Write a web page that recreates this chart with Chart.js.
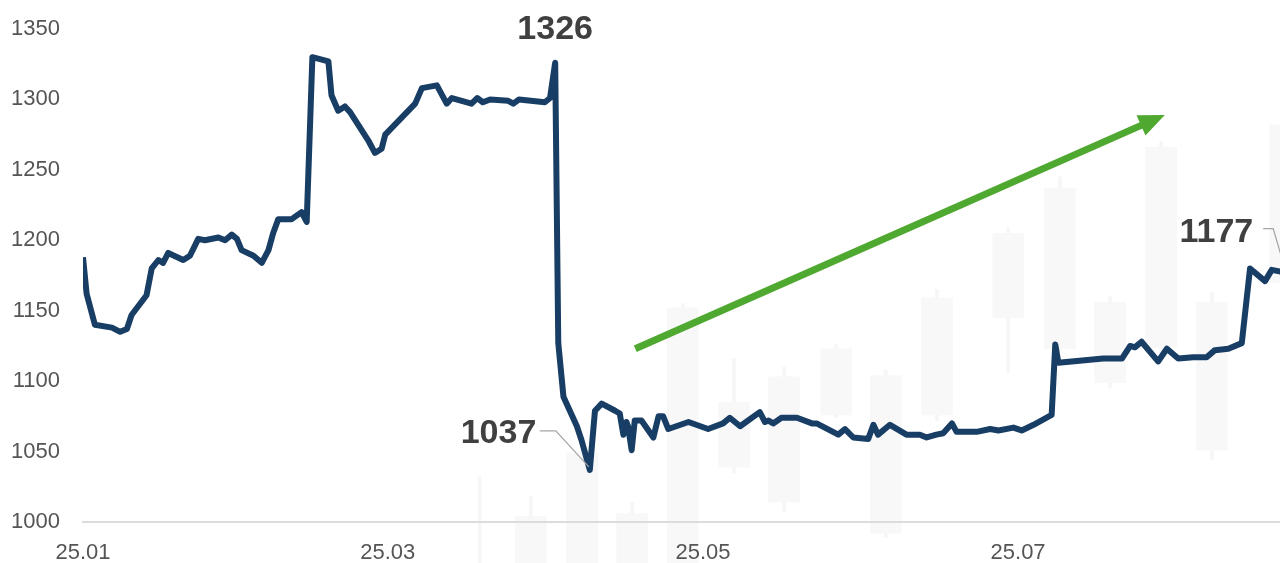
<!DOCTYPE html>
<html><head><meta charset="utf-8">
<script src="https://cdn.jsdelivr.net/npm/chart.js@4.4.1/dist/chart.umd.min.js"></script>
<style>html,body{margin:0;padding:0;background:#fff;}#wrap{width:1280px;height:563px;}</style>
</head><body><div id="wrap"><canvas id="c" width="1280" height="563"></canvas></div>
<script>
// ---- data (x = calendar day of 2025, 0 = Jan 1) ----
const days = [0,0.7,2.3,5.6,7.2,8.5,9.4,12.3,13.3,14.6,15.5,16.5,19.4,20.7,22.3,23.6,26.2,27.5,28.8,29.8,30.7,33.0,34.6,35.9,36.8,37.8,40.4,42.3,43.3,44.4,47.5,48.1,49.4,50.7,51.7,55.2,56.5,57.8,58.5,64.3,65.6,68.5,70.4,71.4,75.2,76.3,77.4,78.8,82.3,83.3,84.4,89.4,90.4,91.4,92.0,93.0,95.6,96.5,98.1,99.1,100.4,103.0,103.9,104.6,105.2,105.5,106.2,106.8,108.1,110.4,111.4,112.3,113.3,117.2,121.0,123.9,125.2,127.2,131.0,132.0,132.7,133.6,135.2,138.2,141.1,142.0,146.2,147.5,149.1,152.0,153.0,153.9,156.2,159.4,162.0,163.3,165.2,166.5,168.2,169.1,173.0,175.6,177.2,180.1,181.7,184.0,187.5,188.2,188.8,197.5,201.1,202.7,203.6,204.9,208.1,209.8,212.0,214.9,216.2,217.5,219.1,221.7,224.3,225.9,228.8,230.1,232.9];
const prices = [1188,1162,1140,1138,1135,1137,1147,1161,1180,1186,1184,1191,1186,1189,1201,1200,1202,1200,1204,1201,1193,1189,1184,1193,1205,1215,1215,1220,1213,1330,1327,1303,1292,1295,1291,1271,1262,1265,1275,1297,1308,1310,1297,1301,1297,1301,1298,1300,1299,1297,1300,1298,1301,1326,1127,1089,1068,1058,1037,1079,1084,1079,1077,1062,1071,1068,1051,1072,1072,1060,1075,1075,1066,1071,1066,1070,1074,1068,1078,1071,1072,1070,1074,1074,1070,1070,1062,1066,1060,1059,1069,1062,1069,1062,1062,1060,1062,1063,1070,1064,1064,1066,1065,1067,1065,1069,1076,1126,1113,1116,1116,1125,1124,1128,1114,1123,1116,1117,1117,1117,1122,1123,1127,1180,1171,1179,1177];

const xTickDays = [0, 59, 120, 181];
const xTickLabels = ['25.01', '25.03', '25.05', '25.07'];
const yTickValues = [1000, 1050, 1100, 1150, 1200, 1250, 1300, 1350];

// faint background candles
const candleDays  = [76.8, 86.7, 96.6, 106.3, 116.1, 126.0, 135.7, 145.8, 155.4, 165.3, 179.1, 189.1, 198.8, 208.7, 218.5, 232.7];
const candleOpen  = [null, 960, 960, 960, 960, 1039, 1014, 1076, 992, 1076, 1145, 1123, 1099, 1124, 1051, 1170];
const candleClose = [null, 1004, 1049, 1006, 1152, 1085, 1103, 1123, 1104, 1159, 1205, 1237, 1156, 1266, 1156, 1282];
const candleLow   = [960, 960, 960, 960, 960, 1035, 1007, 1074, 989, 1072, 1106, 1122, 1095, 1120, 1044, 1165];
const candleHigh  = [1032, 1018, 1051, 1014, 1155, 1116, 1110, 1126, 1108, 1165, 1209, 1245, 1160, 1270, 1163, 1285];

// labelled points (by day) and trend arrow (data coords)
const labelDays = [91.4, 98.1, 232.9];
const trendStart = [106.9, 1123];
const trendEnd = [209.4, 1289];

// ---- build ----
const lineData = days.map((d, i) => ({x: d, y: prices[i]}));
const bodyData = candleDays.map((d, i) => ({x: d, y: candleOpen[i] == null ? null : [candleOpen[i], candleClose[i]]}));
const wickData = candleDays.map((d, i) => ({x: d, y: [candleLow[i], candleHigh[i]]}));

const labelStyles = [
  {dx: 0, dy: -23.5, align: 'center', leader: null},
  {dx: -53.5, dy: -26.5, align: 'right', leader: [[-50, -39], [-34, -39], [-1, -3]]},
  {dx: -33, dy: -31, align: 'right', leader: [[-23, -44], [-13, -44], [0, 0]]}
];

const overlay = {
  id: 'overlay',
  afterDatasetsDraw(chart) {
    const ctx = chart.ctx, xs = chart.scales.x, ys = chart.scales.y;
    ctx.save();
    // trend arrow
    const x0 = xs.getPixelForValue(trendStart[0]), y0 = ys.getPixelForValue(trendStart[1]);
    const x1 = xs.getPixelForValue(trendEnd[0]), y1 = ys.getPixelForValue(trendEnd[1]);
    const ang = Math.atan2(y1 - y0, x1 - x0);
    const headL = 26, headW = 11;
    const bx = x1 - headL * Math.cos(ang), by = y1 - headL * Math.sin(ang);
    ctx.strokeStyle = '#4fa82f';
    ctx.fillStyle = '#4fa82f';
    ctx.lineWidth = 7;
    ctx.lineCap = 'butt';
    ctx.beginPath();
    ctx.moveTo(x0, y0);
    ctx.lineTo(bx + 2 * Math.cos(ang), by + 2 * Math.sin(ang));
    ctx.stroke();
    ctx.beginPath();
    ctx.moveTo(x1, y1);
    ctx.lineTo(bx + headW * Math.sin(ang), by - headW * Math.cos(ang));
    ctx.lineTo(bx - headW * Math.sin(ang), by + headW * Math.cos(ang));
    ctx.closePath();
    ctx.fill();
    // value labels
    ctx.font = 'bold 34px "Liberation Sans", Arial, sans-serif';
    ctx.textBaseline = 'alphabetic';
    labelDays.forEach((d, k) => {
      const i = days.indexOf(d);
      const px = xs.getPixelForValue(days[i]), py = ys.getPixelForValue(prices[i]);
      const st = labelStyles[k];
      if (st.leader) {
        ctx.strokeStyle = '#a6a6a6';
        ctx.lineWidth = 1.3;
        ctx.beginPath();
        st.leader.forEach((p, j) => j ? ctx.lineTo(px + p[0], py + p[1]) : ctx.moveTo(px + p[0], py + p[1]));
        ctx.stroke();
      }
      ctx.fillStyle = '#404040';
      ctx.textAlign = st.align;
      ctx.fillText(String(Math.round(prices[i])), px + st.dx, py + st.dy);
    });
    ctx.restore();
  }
};

new Chart(document.getElementById('c'), {
  data: {
    datasets: [
      {type: 'line', data: lineData, borderColor: '#183e65', borderWidth: 6, pointRadius: 0,
       tension: 0, borderJoinStyle: 'round', borderCapStyle: 'butt', fill: false, order: 0},
      {type: 'bar', data: bodyData, backgroundColor: '#f8f8f9', barThickness: 31, grouped: false,
       clip: false, order: 1, borderWidth: 0},
      {type: 'bar', data: wickData, backgroundColor: '#f6f6f7', barThickness: 3, grouped: false,
       clip: false, order: 2, borderWidth: 0}
    ]
  },
  options: {
    responsive: false,
    animation: false,
    events: [],
    layout: {padding: {top: 29, left: 0, right: 0, bottom: 0}},
    plugins: {legend: {display: false}, tooltip: {enabled: false}},
    scales: {
      x: {
        type: 'linear', min: 0, max: 231.7, offset: false,
        afterBuildTicks: s => { s.ticks = xTickDays.map(v => ({value: v})); },
        afterFit: s => { s.height = 41; s.paddingLeft = 0; s.paddingRight = 0; },
        ticks: {
          z: 1,
          callback: v => xTickLabels[xTickDays.indexOf(v)],
          autoSkip: false, maxRotation: 0, minRotation: 0, padding: 18,
          color: '#555555', font: {family: '"Liberation Sans", Arial, sans-serif', size: 22}
        },
        grid: {display: false, drawTicks: false},
        border: {display: true, color: '#dcdcdc', width: 2, z: 1}
      },
      y: {
        type: 'linear', min: 1000, max: 1350,
        afterBuildTicks: s => { s.ticks = yTickValues.map(v => ({value: v})); },
        afterFit: s => { s.width = 83; s.paddingTop = 0; s.paddingBottom = 0; },
        ticks: {
          padding: 23, color: '#555555', callback: v => String(v),
          font: {family: '"Liberation Sans", Arial, sans-serif', size: 22}
        },
        grid: {display: false, drawTicks: false},
        border: {display: false}
      }
    }
  },
  plugins: [overlay]
});
</script>
</body></html>
